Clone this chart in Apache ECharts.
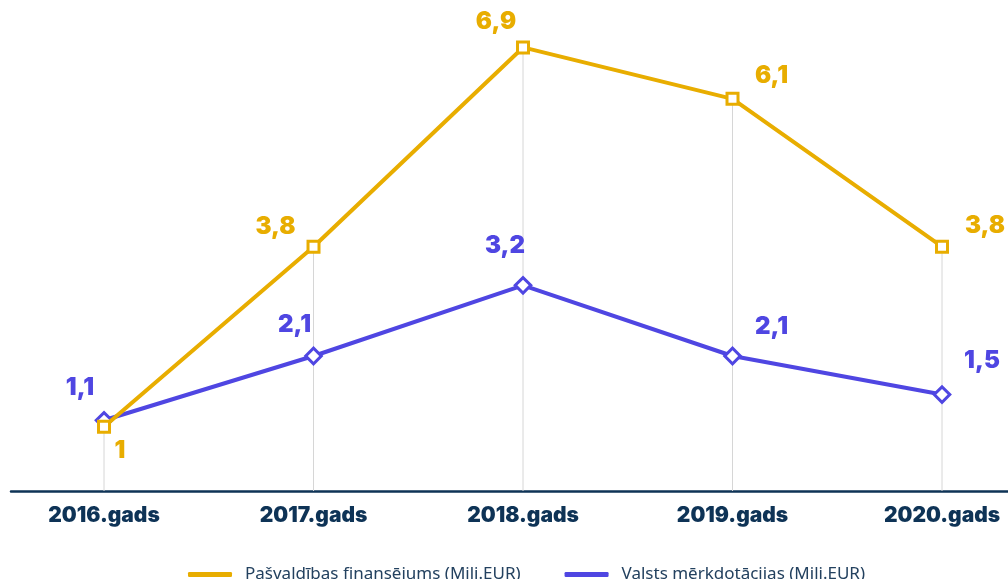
<!DOCTYPE html>
<html><head><meta charset="utf-8">
<script src="https://cdn.jsdelivr.net/npm/echarts@6/dist/echarts.min.js"></script>
<style>html,body{margin:0;padding:0;background:#fff}#c{width:1008px;height:579px}</style>
</head><body><div id="c"></div>
<script>
const categories = ['2016.gads','2017.gads','2018.gads','2019.gads','2020.gads'];
const municipal = [1, 3.8, 6.9, 6.1, 3.8];
const stateGrants = [1.1, 2.1, 3.2, 2.1, 1.5];
const seriesNames = ['Pašvaldības finansējums (Milj.EUR)', 'Valsts mērķdotācijas (Milj.EUR)'];

const YEL = '#e8ad00', BLU = '#4f46e2', NAVY = '#0e3356';
const muniOffsets = [[16,24],[-38,-20],[-27,-26],[39,-23],[43,-21]];
const stateOffsets = [[-24,-33],[-19,-31],[-18,-40],[39,-29],[40,-34]];
const fmt = v => String(v).replace('.', ',');
const labelFont = {fontFamily:'Inter', fontWeight:900, fontSize:24};

function pts(arr, color, offs) {
  return arr.map((v,i)=>({
    value:[i, v],
    label:{show:true, position:'inside', offset:offs[i], color:color, formatter: fmt(v), ...labelFont}
  }));
}
const drop = municipal.map((v,i)=>[i, Math.max(v, stateGrants[i])]);

const chart = echarts.init(document.getElementById('c'));
chart.setOption({
  animation:false,
  grid:{left:11, right:0, top:41, bottom:88},
  xAxis:{type:'value', min:-0.444, max:4.315,
    splitLine:{show:false},
    axisLine:{show:true, onZero:false, lineStyle:{color:NAVY, width:2.5}},
    axisTick:{show:false},
    axisLabel:{customValues:[0,1,2,3,4], formatter:v=>categories[Math.round(v)]||'',
      color:NAVY, fontFamily:'Inter', fontWeight:900, fontSize:21, margin:14}
  },
  yAxis:{type:'value', min:0, max:7, show:false, splitLine:{show:false}},
  legend:{left:183, top:561, itemGap:44, itemWidth:44, itemHeight:5, icon:'roundRect',
    textStyle:{color:'#23415f', fontFamily:'Noto Sans', fontSize:17, padding:[0,0,0,8]},
    data:[
      {name:seriesNames[0], itemStyle:{color:YEL, borderWidth:0}},
      {name:seriesNames[1], itemStyle:{color:BLU, borderWidth:0}}
    ]},
  series:[
    {type:'bar', data:drop, barWidth:1, itemStyle:{color:'#d6d6d6'}, silent:true, z:1},
    {name:seriesNames[0], type:'line', data:pts(municipal, YEL, muniOffsets), z:3,
      symbol:'rect', symbolSize:11, showAllSymbol:true,
      lineStyle:{color:YEL, width:4}, itemStyle:{color:'#fff', borderColor:YEL, borderWidth:3}},
    {name:seriesNames[1], type:'line', data:pts(stateGrants, BLU, stateOffsets), z:2,
      symbol:'rect', symbolRotate:45, symbolSize:11, showAllSymbol:true,
      lineStyle:{color:BLU, width:4}, itemStyle:{color:'#fff', borderColor:BLU, borderWidth:3}}
  ]
});
</script></body></html>
